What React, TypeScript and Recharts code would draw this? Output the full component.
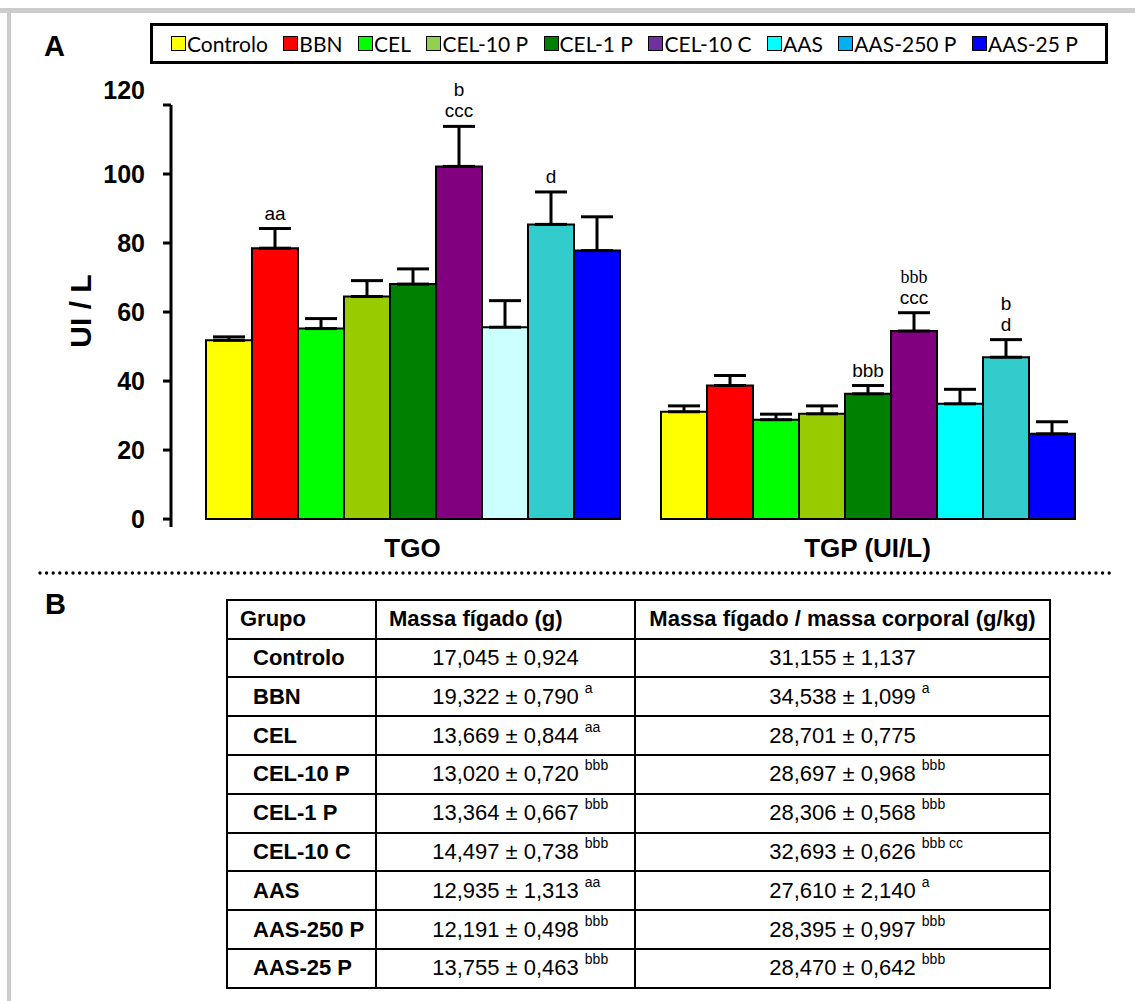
import React from "react";
import {
  BarChart,
  Bar,
  XAxis,
  YAxis,
  ErrorBar,
  LabelList,
  Cell,
} from "recharts";

// grupos experimentais
const groups = [
  "Controlo",
  "BBN",
  "CEL",
  "CEL-10 P",
  "CEL-1 P",
  "CEL-10 C",
  "AAS",
  "AAS-250 P",
  "AAS-25 P",
];
const categories = ["TGO", "TGP (UI/L)"];
const yTicks = [0, 20, 40, 60, 80, 100, 120];

// médias e erro padrão (UI/L)
const tgoMean = [51.8, 78.5, 55.2, 64.5, 68.1, 102.2, 55.6, 85.4, 77.8];
const tgoSem = [1.0, 5.7, 2.9, 4.6, 4.4, 11.6, 7.7, 9.4, 9.8];
const tgpMean = [31.1, 38.7, 28.8, 30.5, 36.3, 54.5, 33.4, 46.9, 24.7];
const tgpSem = [1.7, 2.9, 1.6, 2.3, 2.4, 5.3, 4.2, 5.1, 3.5];

// letras de significância (linhas separadas por "|")
const tgoMarks = ["", "aa", "", "", "", "b|ccc", "", "d", ""];
const tgpMarks = ["", "", "", "", "bbb", "bbb|ccc", "", "b|d", ""];

const tgoColors = ["#ffff00", "#ff0000", "#00ff00", "#99cc00", "#008000", "#800080", "#ccffff", "#33cccc", "#0000ff"];
const tgpColors = ["#ffff00", "#ff0000", "#00ff00", "#99cc00", "#008000", "#800080", "#00ffff", "#33cccc", "#0000ff"];
const legendColors = ["#ffff00", "#ff0000", "#00ff00", "#92d050", "#008000", "#7030a0", "#00ffff", "#00b0f0", "#0000ff"];

// tabela B
const liverMass = ["17,045 ± 0,924", "19,322 ± 0,790", "13,669 ± 0,844", "13,020 ± 0,720", "13,364 ± 0,667", "14,497 ± 0,738", "12,935 ± 1,313", "12,191 ± 0,498", "13,755 ± 0,463"];
const liverMassSup = ["", "a", "aa", "bbb", "bbb", "bbb", "aa", "bbb", "bbb"];
const liverRatio = ["31,155 ± 1,137", "34,538 ± 1,099", "28,701 ± 0,775", "28,697 ± 0,968", "28,306 ± 0,568", "32,693 ± 0,626", "27,610 ± 2,140", "28,395 ± 0,997", "28,470 ± 0,642"];
const liverRatioSup = ["", "a", "", "bbb", "bbb", "bbb cc", "a", "bbb", "bbb"];

const data = categories.map((name, ci) => {
  const row: Record<string, any> = { name };
  groups.forEach((_, gi) => {
    row[`v${gi}`] = ci === 0 ? tgoMean[gi] : tgpMean[gi];
    row[`e${gi}`] = [0, ci === 0 ? tgoSem[gi] : tgpSem[gi]];
  });
  return row;
});

const SANS = "'Liberation Sans', Arial, Helvetica, sans-serif";
const SERIF = "'Liberation Serif', 'Times New Roman', serif";

const YTick = ({ x, y, payload }: any) => (
  <text
    x={x - 16}
    y={y + 9 + (payload.value === 120 ? -15 : 0)}
    textAnchor="end"
    fontFamily={SANS}
    fontWeight="bold"
    fontSize={25}
    fill="#000"
  >
    {payload.value}
  </text>
);

const XTick = ({ x, y, payload }: any) => (
  <text
    x={x}
    y={y + 22}
    textAnchor="middle"
    fontFamily={SANS}
    fontWeight="bold"
    fontSize={26}
    fill="#000"
  >
    {payload.value}
  </text>
);

function Marks(props: any) {
  const { x, y, width, height, value, index, gi } = props;
  const mark = index === 0 ? tgoMarks[gi] : tgpMarks[gi];
  if (!mark) return null;
  const sem = index === 0 ? tgoSem[gi] : tgpSem[gi];
  const errTop = y - sem * (height / value);
  const lines = mark.split("|");
  const cx = x + width / 2;
  return (
    <g>
      {lines.map((t: string, li: number) => {
        // no original o "bbb" sobre CEL-10 C (TGP) está em letra serifada
        const serif = index === 1 && gi === 5 && li === 0;
        return (
          <text
            key={li}
            x={cx}
            y={errTop - 9 - (lines.length - 1 - li) * 21}
            textAnchor="middle"
            style={{ fontFamily: serif ? SERIF : SANS }}
            fontSize={serif ? 18 : 19}
            fill="#000"
          >
            {t}
          </text>
        );
      })}
    </g>
  );
}

const cellText: React.CSSProperties = {
  border: "2px solid #000",
  padding: 0,
  fontFamily: SANS,
  fontSize: 22,
  color: "#000",
  verticalAlign: "middle",
};

function ValueCell({ text, sup }: { text: string; sup: string }) {
  return (
    <td style={{ ...cellText, textAlign: "center" }}>
      <span style={{ position: "relative" }}>
        {text}
        {sup && (
          <span
            style={{
              position: "absolute",
              left: "100%",
              top: -4,
              marginLeft: 6,
              fontSize: 14,
              whiteSpace: "nowrap",
            }}
          >
            {sup}
          </span>
        )}
      </span>
    </td>
  );
}

export default function App() {
  return (
    <div
      style={{
        position: "absolute",
        left: 0,
        top: 0,
        width: 1135,
        height: 1001,
        background: "#fff",
        overflow: "hidden",
      }}
    >
      {/* moldura cinzenta */}
      <div style={{ position: "absolute", left: 0, top: 8, width: 1135, height: 5, background: "#cccccc" }} />
      <div style={{ position: "absolute", left: 7, top: 8, width: 4, height: 993, background: "#cccccc" }} />

      <div style={{ position: "absolute", left: 44, top: 30, fontFamily: SANS, fontWeight: "bold", fontSize: 29 }}>A</div>
      <div style={{ position: "absolute", left: 45, top: 588, fontFamily: SANS, fontWeight: "bold", fontSize: 29 }}>B</div>

      {/* legenda */}
      <div
        style={{
          position: "absolute",
          left: 150,
          top: 23,
          width: 958,
          height: 41,
          boxSizing: "border-box",
          border: "3px solid #000",
          display: "flex",
          alignItems: "center",
          justifyContent: "space-between",
          paddingLeft: 18,
          paddingRight: 27,
          fontFamily: "Lato, 'Open Sans', sans-serif",
          fontSize: 21,
          color: "#000",
        }}
      >
        {groups.map((g, i) => (
          <div key={g} style={{ display: "flex", alignItems: "center" }}>
            <span
              style={{
                width: 13,
                height: 13,
                border: "1px solid #000",
                background: legendColors[i],
                marginRight: 1,
              }}
            />
            <span>{g}</span>
          </div>
        ))}
      </div>

      <div style={{ position: "absolute", left: 0, top: 0 }}>
        <BarChart
          width={1135}
          height={580}
          data={data}
          margin={{ top: 105, right: 40, bottom: 8, left: 0 }}
          barGap={0}
        >
          <XAxis
            dataKey="name"
            axisLine={false}
            tickLine={false}
            padding={{ left: 14, right: 0 }}
            height={45}
            interval={0}
            tick={<XTick />}
          />
          <YAxis
            type="number"
            domain={[-2.3, 120]}
            ticks={yTicks}
            allowDataOverflow
            width={171}
            tickSize={8}
            axisLine={{ stroke: "#000", strokeWidth: 3 }}
            tickLine={{ stroke: "#000", strokeWidth: 3 }}
            tick={<YTick />}
            label={{
              value: "UI / L",
              position: "center",
              content: () => (
                <text
                  x={80}
                  y={311}
                  transform="rotate(-90 80 311)"
                  textAnchor="middle"
                  dominantBaseline="central"
                  fontFamily={SANS}
                  fontWeight="bold"
                  fontSize={30}
                  fill="#000"
                >
                  UI / L
                </text>
              ),
            }}
          />
          {groups.map((g, gi) => (
            <Bar
              key={g}
              dataKey={`v${gi}`}
              name={g}
              barSize={46}
              stroke="#000"
              strokeWidth={2}
              isAnimationActive={false}
            >
              {categories.map((c, ci) => (
                <Cell key={c} fill={ci === 0 ? tgoColors[gi] : tgpColors[gi]} />
              ))}
              <ErrorBar dataKey={`e${gi}`} width={16} strokeWidth={3} stroke="#000" direction="y" />
              <LabelList dataKey={`v${gi}`} content={(p: any) => <Marks {...p} gi={gi} />} />
            </Bar>
          ))}
        </BarChart>
      </div>

      {/* linha pontilhada */}
      <svg style={{ position: "absolute", left: 0, top: 566 }} width={1135} height={14}>
        <line x1={40} y1={7} x2={1114} y2={7} stroke="#000" strokeWidth={3.4} strokeDasharray="0 6.6" strokeLinecap="round" />
      </svg>

      {/* tabela */}
      <table
        style={{
          position: "absolute",
          left: 226,
          top: 599,
          width: 823,
          borderCollapse: "collapse",
          tableLayout: "fixed",
        }}
      >
        <colgroup>
          <col style={{ width: 149 }} />
          <col style={{ width: 259 }} />
          <col style={{ width: 415 }} />
        </colgroup>
        <tbody>
          <tr style={{ height: 38.6 }}>
            <td style={{ ...cellText, fontWeight: "bold", paddingLeft: 12 }}>Grupo</td>
            <td style={{ ...cellText, fontWeight: "bold", paddingLeft: 12 }}>Massa fígado (g)</td>
            <td style={{ ...cellText, fontWeight: "bold", textAlign: "center" }}>Massa fígado / massa corporal (g/kg)</td>
          </tr>
          {groups.map((g, i) => (
            <tr key={g} style={{ height: 38.8 }}>
              <td style={{ ...cellText, fontWeight: "bold", paddingLeft: 25 }}>{g}</td>
              <ValueCell text={liverMass[i]} sup={liverMassSup[i]} />
              <ValueCell text={liverRatio[i]} sup={liverRatioSup[i]} />
            </tr>
          ))}
        </tbody>
      </table>
    </div>
  );
}
